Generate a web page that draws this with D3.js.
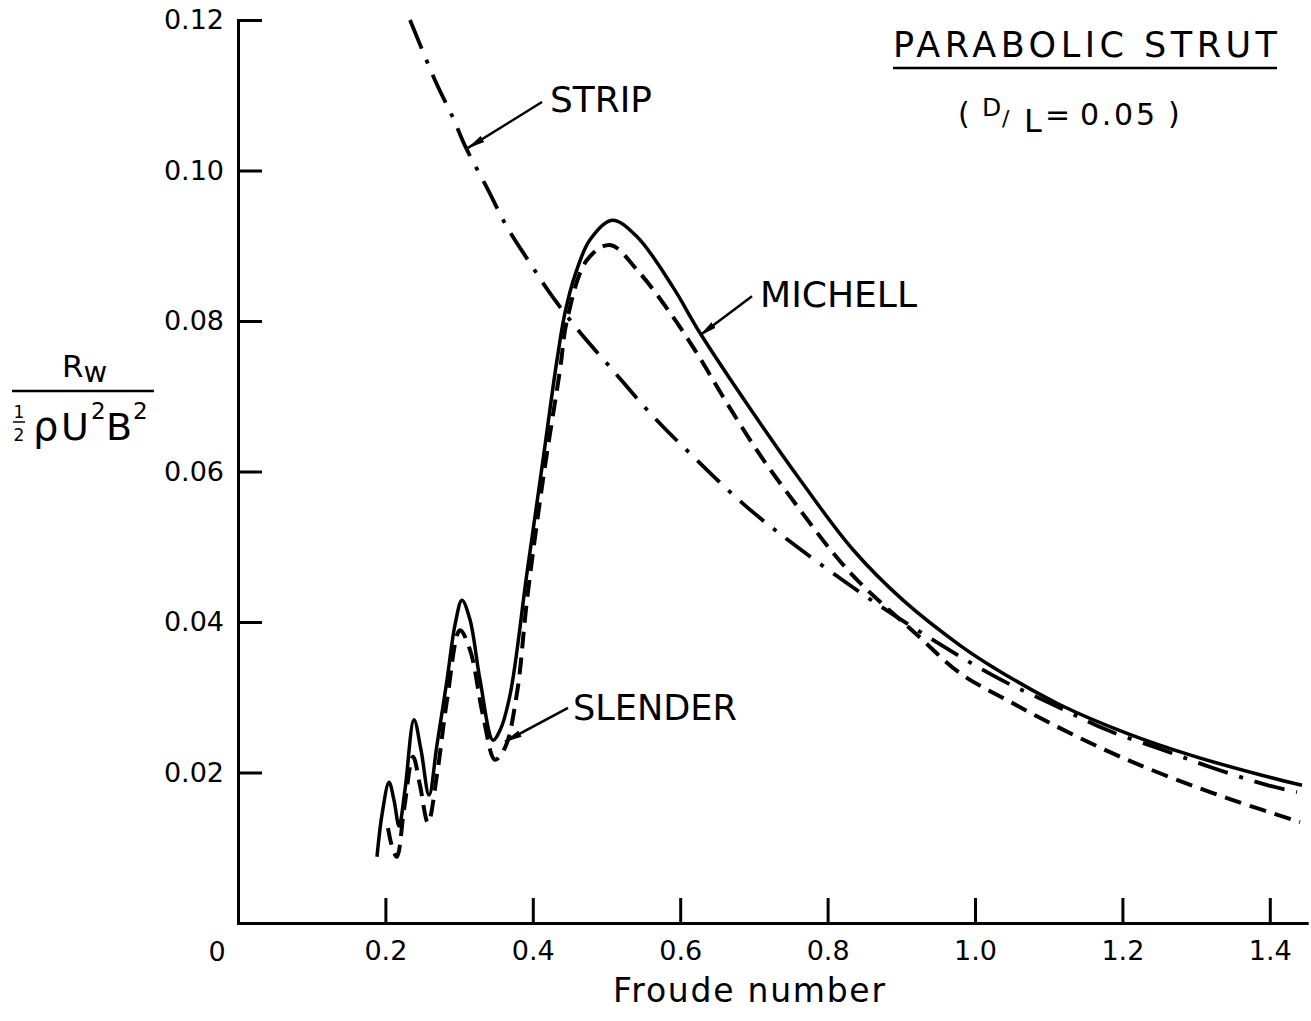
<!DOCTYPE html>
<html>
<head>
<meta charset="utf-8">
<script src="https://cdn.jsdelivr.net/npm/d3@7"></script>
<style>
  body { margin: 0; background: #fff; }
  svg { display: block; font-family: "DejaVu Sans", sans-serif; }
  .axis path, .axis line { stroke: #000; stroke-width: 3; }
  .axis text { font-size: 27px; fill: #000; font-family: "DejaVu Sans", sans-serif; }
</style>
</head>
<body>
<svg width="1311" height="1021"></svg>
<script>
// Froude number vs wave resistance coefficient
const xTicks = [0.2, 0.4, 0.6, 0.8, 1.0, 1.2, 1.4];
const yTicks = [0.02, 0.04, 0.06, 0.08, 0.10, 0.12];

const michell = [
  [0.1886, 0.0088], [0.1954, 0.0144], [0.2049, 0.0187], [0.2117, 0.0163], [0.2185, 0.0129],
  [0.2266, 0.0177], [0.2388, 0.0270], [0.2483, 0.0230], [0.2592, 0.0170], [0.2700, 0.0237],
  [0.2836, 0.0323], [0.2944, 0.0396], [0.3039, 0.0429], [0.3148, 0.0403], [0.3284, 0.0323],
  [0.3460, 0.0243], [0.3555, 0.0256], [0.3691, 0.0303], [0.3921, 0.0465], [0.4138, 0.0615],
  [0.4328, 0.0748], [0.4437, 0.0811], [0.4573, 0.0861], [0.4776, 0.0908], [0.5075, 0.0934],
  [0.5414, 0.0912], [0.5902, 0.0845], [0.6269, 0.0784], [0.6988, 0.0678], [0.7626, 0.0589],
  [0.8345, 0.0496], [0.9023, 0.0429], [0.9796, 0.0369], [1.0244, 0.0340], [1.1153, 0.0290],
  [1.2062, 0.0252], [1.2958, 0.0222], [1.3867, 0.0197], [1.4437, 0.0183]
];

const slender = [
  [0.2035, 0.0126], [0.2103, 0.0097], [0.2157, 0.0088], [0.2252, 0.0150], [0.2375, 0.0221],
  [0.2469, 0.0183], [0.2578, 0.0133], [0.2700, 0.0197], [0.2836, 0.0296], [0.3012, 0.0389],
  [0.3148, 0.0363], [0.3324, 0.0276], [0.3487, 0.0217], [0.3623, 0.0233], [0.3786, 0.0306],
  [0.3921, 0.0429], [0.4138, 0.0589], [0.4369, 0.0735], [0.4464, 0.0801], [0.4735, 0.0881],
  [0.5047, 0.0901], [0.5414, 0.0868], [0.5862, 0.0811], [0.6228, 0.0757], [0.6608, 0.0695],
  [0.7083, 0.0622], [0.7626, 0.0549], [0.8073, 0.0492], [0.8440, 0.0452], [0.9213, 0.0383],
  [0.9796, 0.0332], [1.0475, 0.0294], [1.1153, 0.0259], [1.1832, 0.0227], [1.2510, 0.0199],
  [1.3419, 0.0166], [1.4410, 0.0134]
];

const strip = [
  [0.2334, 0.1200], [0.2673, 0.1120], [0.2917, 0.1070], [0.3094, 0.1030], [0.3379, 0.0977],
  [0.3650, 0.0925], [0.3962, 0.0877], [0.4233, 0.0837], [0.4613, 0.0788], [0.5047, 0.0739],
  [0.5617, 0.0675], [0.6228, 0.0615], [0.6879, 0.0555], [0.7585, 0.0500], [0.8535, 0.0433],
  [0.9484, 0.0373], [1.0299, 0.0326], [1.1085, 0.0289], [1.1805, 0.0256], [1.2551, 0.0230],
  [1.3229, 0.0206], [1.3976, 0.0183], [1.4369, 0.0174]
];

// label text, text anchor point, arrow start, arrow tip (data units)
const notes = [
  {text: "STRIP",   at: [0.4233, 0.1078], from: [0.4125, 0.1091], to: [0.3121, 0.1030], len: 102},
  {text: "MICHELL", at: [0.7083, 0.0819], from: [0.6974, 0.0833], to: [0.6269, 0.0781], len: 157},
  {text: "SLENDER", at: [0.4545, 0.0270], from: [0.4478, 0.0286], to: [0.3623, 0.0241], len: 164}
];

let svg = d3.select("svg");
let x = d3.scaleLinear().domain([0, 1.45]).range([238, 238 + 1.45 * 737]);
let y = d3.scaleLinear().domain([0, 0.12]).range([923, 20]);

svg.append("defs").append("marker")
  .attr("id", "head")
  .attr("markerUnits", "userSpaceOnUse")
  .attr("viewBox", "0 -5 18 10")
  .attr("refX", 17).attr("refY", 0)
  .attr("markerWidth", 18).attr("markerHeight", 10)
  .attr("orient", "auto")
  .append("path").attr("d", "M0,-3.5L18,0L0,3.5Z").attr("fill", "#000");

svg.append("g")
  .attr("class", "axis")
  .attr("transform", "translate(0," + y(0) + ")")
  .call(d3.axisBottom(x).tickValues(xTicks).tickFormat(d3.format(".1f"))
    .tickSizeInner(-25).tickSizeOuter(0).tickPadding(18));

svg.append("g")
  .attr("class", "axis")
  .attr("transform", "translate(" + x(0) + ",0)")
  .call(d3.axisLeft(y).tickValues(yTicks).tickFormat(d3.format(".2f"))
    .tickSizeInner(-24).tickSizeOuter(0).tickPadding(14));

svg.selectAll(".axis .domain").attr("stroke-linecap", "square");

svg.append("text")
  .attr("x", x(0) - 21).attr("y", 961)
  .attr("text-anchor", "middle").attr("font-size", 27)
  .text("0");

let line = d3.line().x(d => x(d[0])).y(d => y(d[1])).curve(d3.curveCatmullRom.alpha(0.5));

svg.append("path").datum(strip)
  .attr("d", line).attr("fill", "none").attr("stroke", "#000")
  .attr("stroke-width", 3.8).attr("stroke-dasharray", "31,12,4,12");

svg.append("path").datum(slender)
  .attr("d", line).attr("fill", "none").attr("stroke", "#000")
  .attr("stroke-width", 4).attr("stroke-dasharray", "17,9");

svg.append("path").datum(michell)
  .attr("d", line).attr("fill", "none").attr("stroke", "#000")
  .attr("stroke-width", 3.5).attr("stroke-linejoin", "round");

// curve labels with arrows
let note = svg.append("g").selectAll("g").data(notes).enter().append("g");
note.append("line")
  .attr("x1", d => x(d.from[0])).attr("y1", d => y(d.from[1]))
  .attr("x2", d => x(d.to[0])).attr("y2", d => y(d.to[1]))
  .attr("stroke", "#000").attr("stroke-width", 2.5)
  .attr("marker-end", "url(#head)");
note.append("text")
  .attr("x", d => x(d.at[0])).attr("y", d => y(d.at[1]))
  .attr("font-size", 35)
  .attr("textLength", d => d.len).attr("lengthAdjust", "spacingAndGlyphs")
  .text(d => d.text);

// title block
svg.append("text")
  .attr("x", 893).attr("y", 57).attr("font-size", 35)
  .attr("textLength", 384).attr("lengthAdjust", "spacing")
  .text("PARABOLIC STRUT");
svg.append("line")
  .attr("x1", 893).attr("x2", 1277).attr("y1", 68).attr("y2", 68)
  .attr("stroke", "#000").attr("stroke-width", 2.5);

let sub = svg.append("g").attr("font-size", 30);
sub.append("text").attr("x", 958).attr("y", 124).text("(");
sub.append("text").attr("x", 982).attr("y", 116).attr("font-size", 25).text("D");
sub.append("text").attr("x", 1002).attr("y", 126).attr("font-size", 22).text("/");
sub.append("text").attr("x", 1024).attr("y", 132).attr("font-size", 32).text("L");
sub.append("text").attr("x", 1045).attr("y", 125).text("=");
sub.append("text").attr("x", 1080).attr("y", 125)
  .attr("textLength", 75).attr("lengthAdjust", "spacing").text("0.05");
sub.append("text").attr("x", 1168).attr("y", 124).text(")");

// y axis label: Rw / (1/2 rho U^2 B^2)
let yl = svg.append("g");
let num = yl.append("text").attr("x", 62).attr("y", 377).attr("font-size", 31);
num.append("tspan").text("R");
num.append("tspan").attr("font-size", 29).attr("dy", 5).text("w");
yl.append("line").attr("x1", 12).attr("x2", 154).attr("y1", 391).attr("y2", 391)
  .attr("stroke", "#000").attr("stroke-width", 2.5);
yl.append("text").attr("x", 19).attr("y", 418).attr("font-size", 17)
  .attr("text-anchor", "middle").text("1");
yl.append("line").attr("x1", 13).attr("x2", 25).attr("y1", 422).attr("y2", 422)
  .attr("stroke", "#000").attr("stroke-width", 1.5);
yl.append("text").attr("x", 19).attr("y", 441).attr("font-size", 17)
  .attr("text-anchor", "middle").text("2");
yl.append("text").attr("x", 33).attr("y", 440).attr("font-size", 40).text("ρ");
yl.append("text").attr("x", 61).attr("y", 440).attr("font-size", 38).text("U");
yl.append("text").attr("x", 91).attr("y", 419).attr("font-size", 23).text("2");
yl.append("text").attr("x", 106).attr("y", 440).attr("font-size", 38).text("B");
yl.append("text").attr("x", 133).attr("y", 419).attr("font-size", 23).text("2");

svg.append("text")
  .attr("x", 613).attr("y", 1002).attr("font-size", 33)
  .attr("textLength", 272).attr("lengthAdjust", "spacing")
  .text("Froude number");
</script>
</body>
</html>
